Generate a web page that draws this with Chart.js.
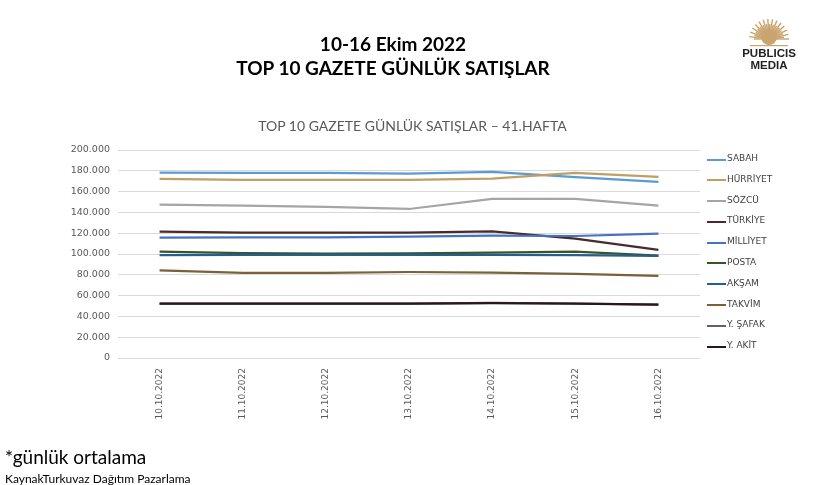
<!DOCTYPE html>
<html>
<head>
<meta charset="utf-8">
<script src="https://cdn.jsdelivr.net/npm/chart.js@4.4.0/dist/chart.umd.min.js"></script>
<style>
  html, body { margin: 0; padding: 0; background: #fff; }
  #wrap { position: relative; width: 814px; height: 485px; overflow: hidden; font-family: Lato, "Open Sans", sans-serif; }
  #chart { position: absolute; left: 0; top: 0; }
  .title { position: absolute; left: 0; width: 786px; text-align: center; font-weight: bold; font-size: 19px; color: #000; }
  #sub { position: absolute; left: 25px; width: 775px; text-align: center; font-size: 14px; color: #595959; top: 117px; }
  #legend { position: absolute; left: 707px; top: 153px; font-family: "DejaVu Sans", sans-serif; font-size: 9px; color: #404040; }
  .li { height: 20.8px; display: flex; align-items: flex-start; }
  .li span.sw { display: inline-block; width: 19px; height: 2px; margin-top: 5.5px; }
  .li span.tx { margin-left: 1px; }
  #foot1 { position: absolute; left: 5px; top: 445px; font-size: 19px; color: #000; }
  #foot2 { position: absolute; left: 5px; top: 471px; font-size: 12px; color: #000; }
  #logo { position: absolute; left: 722px; top: 10px; width: 94px; text-align: center; font-family: "Liberation Sans", Arial, sans-serif; font-weight: bold; color: #222; font-size: 11.5px; line-height: 12px; }
</style>
</head>
<body>
<div id="wrap">
  <canvas id="chart" width="814" height="485"></canvas>
  <div class="title" style="top:32px">10-16 Ekim 2022</div>
  <div class="title" style="top:56px">TOP 10 GAZETE GÜNLÜK SATIŞLAR</div>
  <div id="sub">TOP 10 GAZETE GÜNLÜK SATIŞLAR – 41.HAFTA</div>
  <div id="legend"></div>
  <div id="logo"><canvas id="sun" width="50" height="37" style="display:block;margin:0 auto"></canvas>PUBLICIS<br>MEDIA</div>
  <div id="foot1">*günlük ortalama</div>
  <div id="foot2">KaynakTurkuvaz Dağıtım Pazarlama</div>
</div>
<script>
// categories and series (daily sales)
const dates = ['10.10.2022', '11.10.2022', '12.10.2022', '13.10.2022', '14.10.2022', '15.10.2022', '16.10.2022'];
const names = ['SABAH', 'HÜRRİYET', 'SÖZCÜ', 'TÜRKİYE', 'MİLLİYET', 'POSTA', 'AKŞAM', 'TAKVİM', 'Y. ŞAFAK', 'Y. AKİT'];
const colors = ['#5B9BD5', '#BF9F63', '#A5A5A5', '#4B2A2C', '#4472C4', '#375623', '#255E91', '#7A6137', '#636363', '#2B1719'];

const sabah    = [178200, 178100, 178000, 177200, 179000, 174000, 169300];
const hurriyet = [172300, 171300, 171200, 171200, 172500, 178000, 174200];
const sozcu    = [147400, 146500, 145400, 143300, 153000, 153000, 146500];
const turkiye  = [121500, 120600, 120500, 120500, 121700, 114800, 104000];
const milliyet = [115700, 115900, 116000, 116700, 117600, 117300, 119500];
const posta    = [102300, 100800, 100500, 100600, 101300, 102200, 98400];
const aksam    = [99000, 99100, 99100, 99100, 99200, 99000, 98200];
const takvim   = [84200, 81800, 81900, 82700, 82100, 80900, 78900];
const yenisafak = [52300, 52300, 52300, 52300, 53000, 52400, 51400];
const yeniakit = [52200, 52200, 52200, 52200, 52700, 52200, 51300];
const series = [sabah, hurriyet, sozcu, turkiye, milliyet, posta, aksam, takvim, yenisafak, yeniakit];

const yTicks = [0, 20000, 40000, 60000, 80000, 100000, 120000, 140000, 160000, 180000, 200000];

function fmt(v) {
    return v.toString().replace(/\B(?=(\d{3})+(?!\d))/g, '.');
}

// legend in the right column
const legend = document.getElementById('legend');
names.forEach((n, i) => {
    const row = document.createElement('div');
    row.className = 'li';
    row.innerHTML = '<span class="sw" style="background:' + colors[i] + '"></span><span class="tx">' + n + '</span>';
    legend.appendChild(row);
});

// later series on top, like Excel
const datasets = names.map((n, i) => ({
    label: n,
    data: series[i],
    borderColor: colors[i],
    backgroundColor: colors[i],
    borderWidth: 2.2,
    pointRadius: 0,
    tension: 0,
    fill: false,
    order: names.length - i
}));

new Chart(document.getElementById('chart').getContext('2d'), {
    type: 'line',
    data: { labels: dates, datasets: datasets },
    options: {
        responsive: false,
        animation: false,
        layout: { padding: { top: 150, right: 114, left: 0, bottom: 0 } },
        plugins: { legend: { display: false }, tooltip: { enabled: false } },
        scales: {
            x: {
                offset: true,
                grid: { display: false },
                border: { display: false },
                ticks: {
                    minRotation: 90, maxRotation: 90,
                    color: '#595959',
                    font: { family: 'DejaVu Sans', size: 9 },
                    padding: 2
                },
                afterFit: (s) => { s.height = 127; }
            },
            y: {
                min: 0, max: 200000,
                afterBuildTicks: (s) => { s.ticks = yTicks.map(v => ({ value: v })); },
                grid: { color: '#D9D9D9', lineWidth: 1, drawTicks: false },
                border: { display: false },
                ticks: {
                    color: '#595959',
                    font: { family: 'DejaVu Sans', size: 9.5 },
                    padding: 8,
                    callback: (v) => fmt(v)
                },
                afterFit: (s) => { s.width = 118; }
            }
        }
    }
});

// little sun mark for the logo
const sc = document.getElementById('sun').getContext('2d');
sc.strokeStyle = '#C9A46E';
sc.lineWidth = 1.4;
for (let a = 0; a < 28; a++) {
    const t = Math.PI * (1 + a / 27);
    sc.beginPath();
    sc.moveTo(25 + Math.cos(t) * 7, 29 + Math.sin(t) * 7);
    sc.lineTo(25 + Math.cos(t) * (15 + (a % 2) * 5), 29 + Math.sin(t) * (15 + (a % 2) * 5));
    sc.stroke();
}
sc.fillStyle = '#C9A46E';
sc.beginPath(); sc.arc(25, 27, 8, 0, Math.PI * 2); sc.fill();
sc.fillRect(6, 35, 38, 1.2);
</script>
</body>
</html>
